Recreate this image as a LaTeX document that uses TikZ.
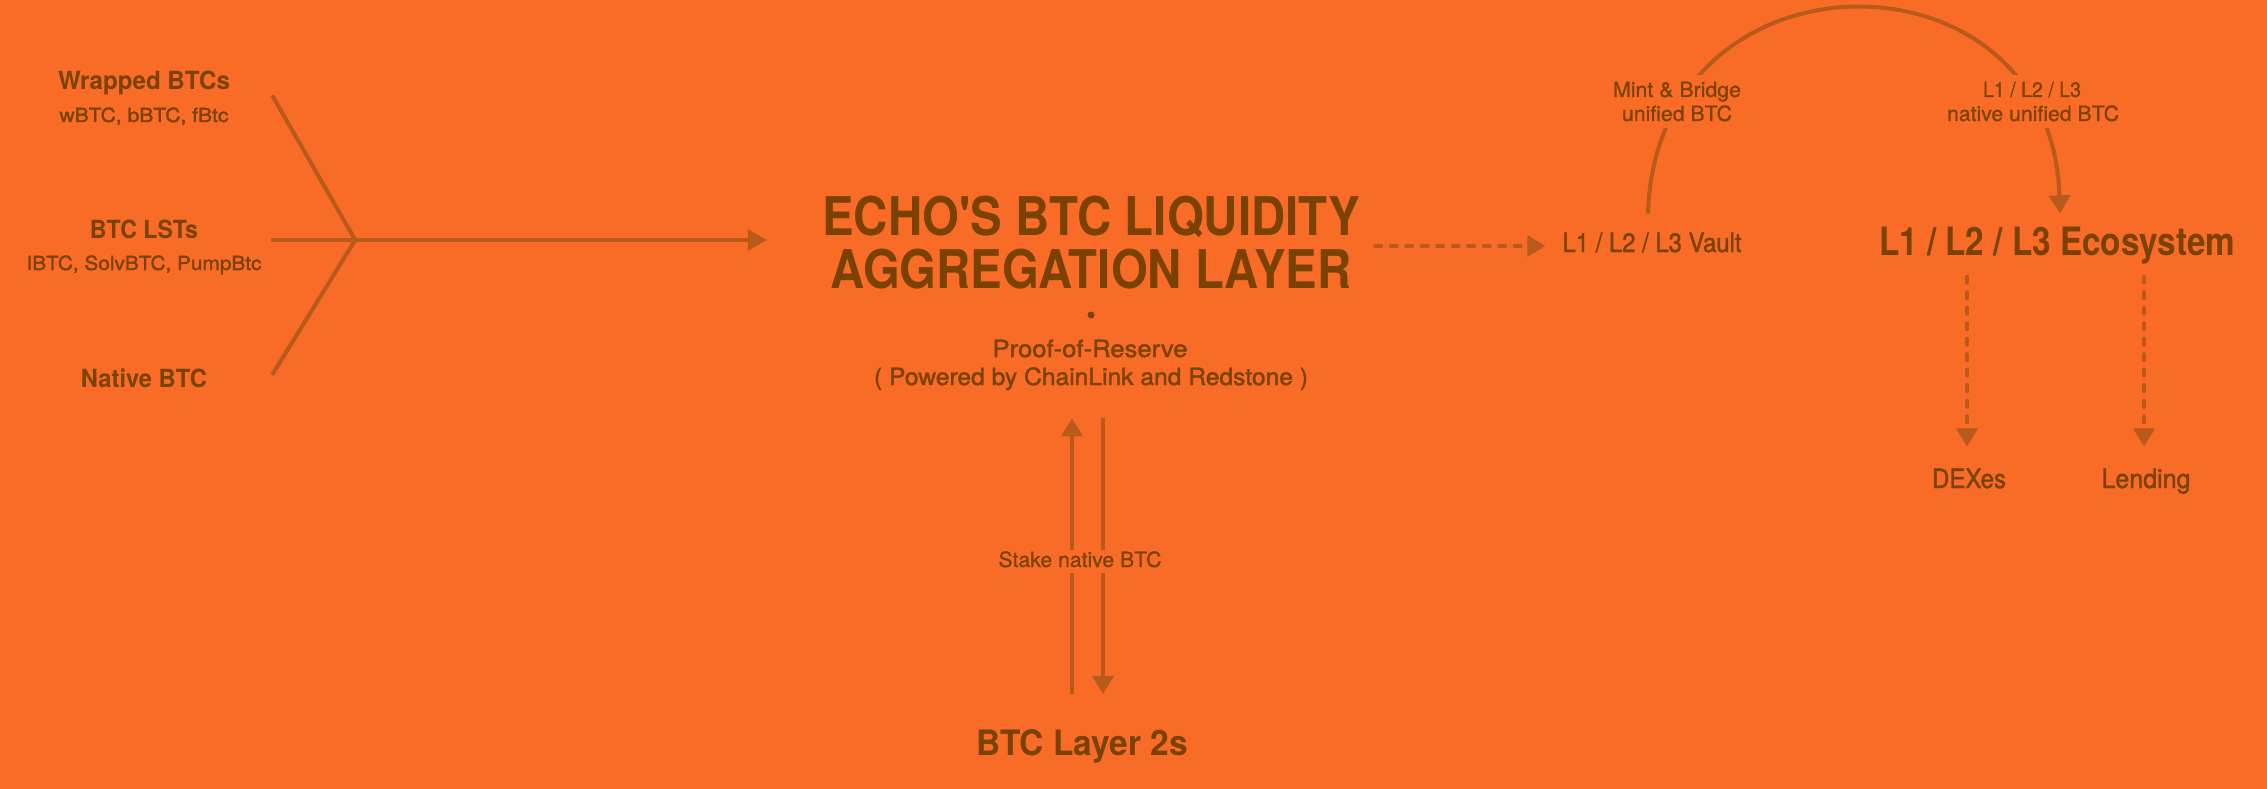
\documentclass[tikz,border=0pt]{standalone}
\usepackage{graphicx}
\usepackage{fontspec}
\setmainfont{TeX Gyre Heros}
\newfontfamily\medfont{TeX Gyre Heros}[FakeBold=1.4]
\newfontfamily\regfont{TeX Gyre Heros}[FakeBold=0.6]
\usetikzlibrary{arrows.meta,calc}
\definecolor{bg}{HTML}{F96C27}
\definecolor{ink}{HTML}{7A4100}
\definecolor{wirec}{HTML}{B85A1B}
\newcommand\fw[2]{\resizebox{#1pt}{\height}{#2}}
\newcommand\fs[1]{\fontsize{#1}{#1}\selectfont}
\begin{document}
\begin{tikzpicture}[x=1pt,y=-1pt,
  lbl/.style={inner sep=0pt, text=ink, anchor=base},
  bd/.style={lbl, font=\bfseries\fs{#1}},
  md/.style={lbl, font=\medfont\fs{#1}},
  rg/.style={lbl, font=\regfont\fs{#1}},
  gap/.style={fill=bg, inner xsep=3pt, inner ysep=0pt, text height=#1},
  ln/.style={draw=wirec, line width=4pt},
  solidarrow/.style={ln, -{Triangle[length=19pt,width=21pt]}},
  dasharrow/.style={ln, dash pattern=on 6pt off 9.5pt, line cap=round, -{Triangle[length=18pt,width=21pt]}},
]
\fill[bg] (0,0) rectangle (2267,789);
\useasboundingbox (0,0) rectangle (2267,789);

% left sources
\node[bd=25] (wr) at (144,90) {\fw{172}{Wrapped BTCs}};
\node[md=19.5] (wrs) at (144,122) {\fw{169}{wBTC, bBTC, fBtc}};
\node[bd=25] (lst) at (144,238) {\fw{108}{BTC LSTs}};
\node[md=19.5] (lsts) at (144,270) {\fw{235}{IBTC, SolvBTC, PumpBtc}};
\node[bd=25] (nat) at (144,387) {\fw{126}{Native BTC}};

% title
\node[bd=53.3] (t1) at (1091,235) {\fw{538}{ECHO\textquotesingle S BTC LIQUIDITY}};
\node[bd=53.3] (t2) at (1091,288) {\fw{521}{AGGREGATION LAYER}};
\node[circle, fill=ink, inner sep=0pt, minimum size=7pt] (dot) at (1091,315) {};
\node[md=23.7] (por1) at (1090,357) {\fw{195}{Proof-of-Reserve}};
\node[md=23.7] (por2) at (1091,385) {\fw{434}{( Powered by ChainLink and Redstone )}};

% left connectors
\coordinate (wrc) at ($(wr.east)+(42,12)$);
\coordinate (lstc) at ($(lst.east |- 0,240)+(73,0)$);
\coordinate (natc) at ($(nat.east)+(65,-3)$);
\coordinate (j) at ($(lstc)+(84,0)$);
\draw[ln] (wrc) -- (j);
\draw[ln] (natc) -- (j);
\draw[solidarrow, shorten >=55pt] (lstc) -- (lstc -| t1.west);

% vault and ecosystem
\node[md=26.5] (vault) at (1652,252) {\fw{179}{L1 / L2 / L3 Vault}};
\node[bd=39] (eco) at (2057,255) {\fw{356}{L1 / L2 / L3 Ecosystem}};
\draw[dasharrow] ($(t1.east |- vault.base)+(15,-6)$) -- ($(vault.base west)+(-17,-6)$);

\draw[ln, -{Triangle[length=18pt,width=21pt]}]
  ($(vault.north)+(-4,-19)$) .. controls +(8,-273) and +(-8,-273) .. ($(eco.north)+(3,-13)$);
\node[rg=21, gap=22pt, text depth=6pt] (mb1) at (1677,97) {\fw{128}{Mint \& Bridge}};
\node[rg=21, gap=18pt, text depth=7pt] (mb2) at (1677,121) {\fw{110}{unified BTC}};
\node[rg=21, gap=22pt, text depth=6pt] (nu1) at (2032,97) {\fw{98}{L1 / L2 / L3}};
\node[rg=21, gap=18pt, text depth=7pt] (nu2) at (2033,121) {\fw{172}{native unified BTC}};

% ecosystem targets
\node[md=26.5] (dex) at (1969,488) {\fw{74}{DEXes}};
\node[md=26.5] (lend) at (2146,488) {\fw{89}{Lending}};
\draw[dasharrow, shorten <=13pt, shorten >=22pt] ($(dex.north |- eco.south)+(-2,0)$) -- ($(dex.north)+(-2,0)$);
\draw[dasharrow, shorten <=13pt, shorten >=22pt] ($(lend.north |- eco.south)+(-2,0)$) -- ($(lend.north)+(-2,0)$);

% bottom
\node[bd=35] (l2) at (1082,755) {\fw{212}{BTC Layer 2s}};
\draw[ln, -{Triangle[length=18pt,width=21pt]}] ($(l2.north)+(-10,-35)$) -- ($(l2.north |- por2.south)+(-10,28)$);
\draw[ln, -{Triangle[length=18pt,width=21pt]}] ($(l2.north |- por2.south)+(21,28)$) -- ($(l2.north)+(21,-35)$);
\node[rg=21, gap=17pt, text depth=6pt] (stake) at (1080,567) {\fw{163}{Stake native BTC}};
\end{tikzpicture}
\end{document}
